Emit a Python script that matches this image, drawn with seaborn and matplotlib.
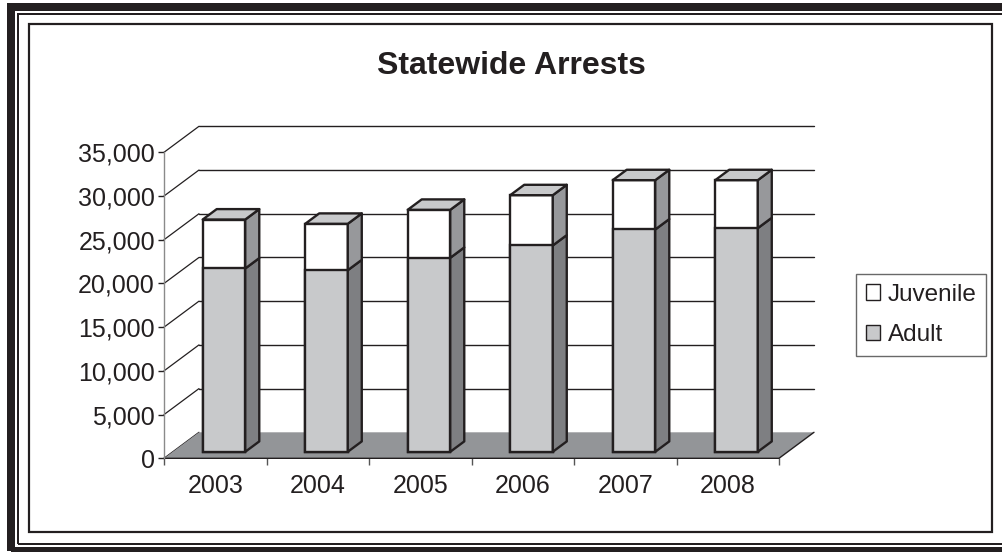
import matplotlib
matplotlib.use("Agg")
import matplotlib.pyplot as plt
import seaborn as sns
import pandas as pd
from matplotlib.patches import Rectangle, Polygon, Patch
from matplotlib.ticker import FuncFormatter

# ---- data -------------------------------------------------------------
years = ["2003", "2004", "2005", "2006", "2007", "2008"]
adult = [20970, 20770, 22190, 23600, 25430, 25580]
juvenile = [5600, 5310, 5490, 5750, 5640, 5490]
series_labels = ["Juvenile", "Adult"]
y_ticks = [0, 5000, 10000, 15000, 20000, 25000, 30000, 35000]
title = "Statewide Arrests"

# ---- style ------------------------------------------------------------
INK = "#231f20"
ADULT_FRONT = "#c8c9cb"
ADULT_SIDE = "#7e7f82"
JUV_FRONT = "#ffffff"
JUV_SIDE = "#97989b"
TOP_FACE = "#c8c9cb"
FLOOR = "#939598"

sns.set_theme(style="white")
plt.rcParams["font.family"] = ["Liberation Sans", "DejaVu Sans"]
plt.rcParams["text.color"] = INK

W, H = 1002, 552
fig = plt.figure(figsize=(W / 100, H / 100), dpi=100)
fig.patch.set_facecolor("white")

# front plane of the pseudo-3D box (pixel layout)
px_left, px_right, px_bottom, px_top = 164, 779, 458.3, 152.3
ax = fig.add_axes([px_left / W, 1 - px_bottom / H,
                   (px_right - px_left) / W, (px_bottom - px_top) / H])
ax.set_xlim(-0.5, len(years) - 0.5)
ax.set_ylim(y_ticks[0], y_ticks[-1])
ax.patch.set_alpha(0)

# depth of the floor / walls, converted to data units
px_per_cat = (px_right - px_left) / len(years)
px_per_val = (px_bottom - px_top) / (y_ticks[-1] - y_ticks[0])
DX = 35 / px_per_cat
DY = 26 / px_per_val
F1, F2 = 0.25, 0.65          # front / back of the columns inside the depth
BAR_W = 0.415

x_lo, x_hi = -0.5, len(years) - 0.5

# back wall gridlines and left wall lines
for v in y_ticks:
    if v > 0:
        ax.plot([x_lo + DX, x_hi + DX], [v + DY, v + DY], color=INK, lw=1.0,
                clip_on=False, zorder=1)
    ax.plot([x_lo, x_lo + DX], [v, v + DY], color=INK, lw=0.9,
            clip_on=False, zorder=1)

# floor
floor = Polygon([(x_lo, 0), (x_hi, 0), (x_hi + DX, DY), (x_lo + DX, DY)],
                closed=True, facecolor=FLOOR, edgecolor="none",
                clip_on=False, zorder=1.5)
ax.add_patch(floor)
ax.plot([x_lo, x_hi, x_hi + DX], [0, 0, DY], color=INK, lw=1.0,
        clip_on=False, zorder=1.6)

# columns: totals first (juvenile on top), adult drawn over them
df = pd.DataFrame({"year": years, "adult": adult,
                   "total": [a + j for a, j in zip(adult, juvenile)]})
sns.barplot(data=df, x="year", y="total", color=JUV_FRONT, saturation=1,
            width=BAR_W, edgecolor=INK, linewidth=1.7, ax=ax)
sns.barplot(data=df, x="year", y="adult", color=ADULT_FRONT, saturation=1,
            width=BAR_W, edgecolor=INK, linewidth=1.7, ax=ax)
for p in ax.patches:
    if isinstance(p, Rectangle) and p is not floor:
        p.set_x(p.get_x() + F1 * DX)
        p.set_y(p.get_y() + F1 * DY)
        p.set_zorder(3)
        p.set_clip_on(False)

# side and top faces of each column
bx, by = (F2 - F1) * DX, (F2 - F1) * DY
for i, (a, j) in enumerate(zip(adult, juvenile)):
    x0 = i - BAR_W / 2 + F1 * DX
    x1 = i + BAR_W / 2 + F1 * DX
    base = F1 * DY
    ya = base + a
    yt = base + a + j
    faces = [
        ([(x1, base), (x1 + bx, base + by), (x1 + bx, ya + by), (x1, ya)], ADULT_SIDE),
        ([(x1, ya), (x1 + bx, ya + by), (x1 + bx, yt + by), (x1, yt)], JUV_SIDE),
        ([(x0, yt), (x1, yt), (x1 + bx, yt + by), (x0 + bx, yt + by)], TOP_FACE),
    ]
    for verts, col in faces:
        ax.add_patch(Polygon(verts, closed=True, facecolor=col, edgecolor=INK,
                             lw=1.7, joinstyle="round", clip_on=False, zorder=3.5))

# axes, ticks, labels
for s in ["top", "right", "bottom"]:
    ax.spines[s].set_visible(False)
ax.spines["left"].set_color("#8a8a8a")
ax.spines["left"].set_linewidth(1.0)
ax.set_xlabel("")
ax.set_ylabel("")
ax.set_yticks(y_ticks)
ax.yaxis.set_major_formatter(FuncFormatter(lambda v, _: f"{int(v):,}"))
ax.tick_params(axis="y", which="major", left=True, length=4, width=1.0,
               color=INK, pad=2.5, labelsize=18, labelcolor=INK)
ax.set_xticks(range(len(years)))
ax.set_xticklabels(years)
ax.set_xticks([k - 0.5 for k in range(len(years) + 1)], minor=True)
ax.tick_params(axis="x", which="major", bottom=True, length=0, pad=11,
               labelsize=18, labelcolor=INK)
ax.tick_params(axis="x", which="minor", bottom=True, length=5, width=1.0,
               color="#555555")
ax.grid(False)

# legend
handles = [Patch(facecolor=JUV_FRONT, edgecolor=INK, lw=1.0),
           Patch(facecolor=ADULT_FRONT, edgecolor=INK, lw=1.0)]
leg = fig.legend(handles, series_labels, loc="upper left",
                 bbox_to_anchor=(856 / W, 1 - 274 / H), frameon=True,
                 fancybox=False, shadow=False, fontsize=17.5,
                 handlelength=0.6, handleheight=0.6, handletextpad=0.3,
                 labelspacing=0.75, borderpad=0.4, borderaxespad=0)
leg.get_frame().set_edgecolor("#444444")
leg.get_frame().set_linewidth(1.0)

# title
fig.text(511 / W, 1 - 66 / H, title, ha="center", va="center",
         fontsize=23, fontweight="bold", color=INK)

# decorative page frame
def frame(x0, y0, x1, y1, lw_px, color):
    fig.add_artist(Rectangle((x0 / W, 1 - y1 / H), (x1 - x0) / W, (y1 - y0) / H,
                             transform=fig.transFigure, fill=False,
                             edgecolor=color, lw=lw_px * 0.72, clip_on=False))

frame(11, 7, 1014, 551, 8, INK)
frame(18, 14, 1010, 544, 2, INK)
frame(29, 24, 992, 532, 2.2, INK)

fig.savefig("out.png", dpi=100, facecolor="white")
